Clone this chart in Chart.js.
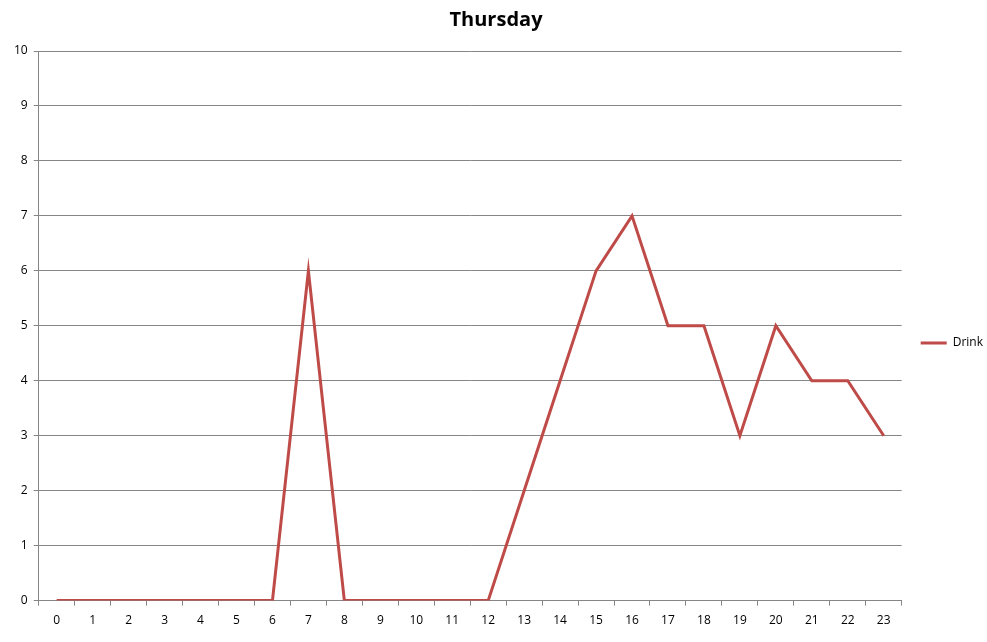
<!DOCTYPE html>
<html>
<head>
<meta charset="utf-8">
<script src="https://cdn.jsdelivr.net/npm/chart.js@4"></script>
<style>
  html, body { margin: 0; padding: 0; background: #fff; }
  #wrap { width: 987px; height: 642px; }
</style>
</head>
<body>
<div id="wrap"><canvas id="thursdayChart"></canvas></div>
<script>
// hours of the day
const hours = ["0","1","2","3","4","5","6","7","8","9","10","11","12","13","14","15","16","17","18","19","20","21","22","23"];
// drinks per hour
const drink = [0,0,0,0,0,0,0,6,0,0,0,0,0,2,4,6,7,5,5,3,5,4,4,3];
const yTicks = [0,1,2,3,4,5,6,7,8,9,10];

const gridGray = "#868686";
const ctx = document.getElementById("thursdayChart").getContext("2d");

// nudge the legend down and right a bit, like the Excel original
const legendShift = {
    id: "legendShift",
    afterLayout(chart) {
        chart.legend.top += 22;
        chart.legend.bottom += 22;
        chart.legend.left += 9;
        chart.legend.right += 9;
    },
};

new Chart(ctx, {
    type: "line",
    data: {
        labels: hours,
        datasets: [
            {
                label: "Drink",
                data: drink,
                borderColor: "#BE4B48",
                backgroundColor: "#BE4B48",
                borderWidth: 3,
                pointRadius: 0,
                tension: 0,
            },
        ],
    },
    options: {
        responsive: true,
        maintainAspectRatio: false,
        animation: false,
        layout: { padding: { left: 8, right: 3, top: 6, bottom: 6 } },
        plugins: {
            title: {
                display: true,
                text: "Thursday",
                color: "#000",
                font: { family: "Open Sans", size: 20, weight: "bold" },
                padding: { top: 2, bottom: 19 },
            },
            legend: {
                position: "right",
                labels: {
                    usePointStyle: true,
                    pointStyle: "line",
                    pointStyleWidth: 26,
                    color: "#000",
                    font: { family: "Open Sans", size: 12 },
                    padding: 10,
                },
            },
            tooltip: { enabled: false },
        },
        scales: {
            x: {
                offset: true,
                grid: { offset: true, drawOnChartArea: false, color: gridGray, tickLength: 5 },
                border: { color: gridGray },
                ticks: { color: "#000", font: { family: "Open Sans", size: 12 }, padding: 8, maxRotation: 0, autoSkip: false },
            },
            y: {
                min: 0,
                max: 10,
                afterBuildTicks: (axis) => { axis.ticks = yTicks.map((v) => ({ value: v })); },
                grid: { color: gridGray, tickLength: 5 },
                border: { color: gridGray },
                ticks: { color: "#000", font: { family: "Open Sans", size: 12 }, padding: 6 },
            },
        },
    },
    plugins: [legendShift],
});
</script>
</body>
</html>
